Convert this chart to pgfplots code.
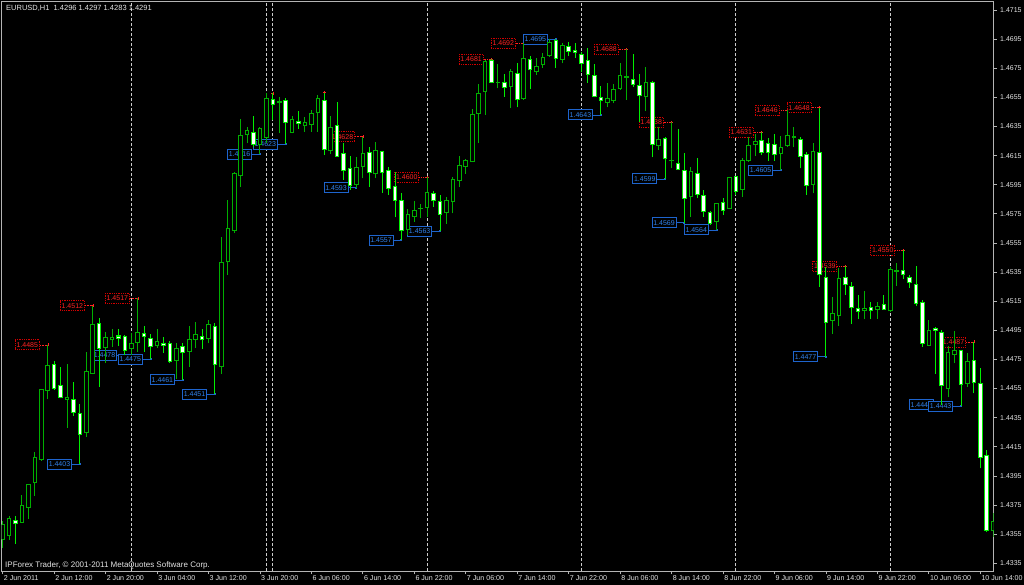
\documentclass[border=0pt]{standalone}
\usepackage{fontspec}
\setmainfont{Liberation Sans}
\usepackage{pgfplots}
\usepackage{pgfplotstable}
\pgfplotsset{compat=1.18}

\definecolor{bullg}{RGB}{0,175,0}
\definecolor{bearg}{RGB}{0,240,0}
\definecolor{framegray}{RGB}{180,180,180}
\definecolor{txt}{RGB}{228,228,228}
\definecolor{sepcol}{RGB}{205,205,205}
\definecolor{hitext}{RGB}{255,35,35}
\definecolor{hiborder}{RGB}{210,0,0}
\definecolor{lotext}{RGB}{50,130,235}
\definecolor{loborder}{RGB}{30,100,205}

% H1 candles, bar 0 = 2 Jun 04:00
\pgfplotstableread{
i O H L C
0 1.43510 1.43641 1.43455 1.43613
1 1.43544 1.43675 1.43510 1.43659
2 1.43647 1.43675 1.43482 1.43622
3 1.43632 1.43819 1.43630 1.43746
4 1.43735 1.43895 1.43654 1.43890
5 1.43904 1.44112 1.43814 1.44078
6 1.44064 1.44548 1.44053 1.44545
7 1.44540 1.44850 1.44476 1.44705
8 1.44717 1.44739 1.44540 1.44552
9 1.44568 1.44696 1.44485 1.44487
10 1.44476 1.44717 1.44281 1.44490
11 1.44478 1.44597 1.44362 1.44384
12 1.44380 1.44444 1.44030 1.44236
13 1.44247 1.44803 1.44219 1.44666
14 1.44655 1.45120 1.44650 1.44987
15 1.44998 1.45033 1.44563 1.44827
16 1.44831 1.44941 1.44728 1.44899
17 1.44884 1.44957 1.44838 1.44899
18 1.44911 1.44957 1.44842 1.44895
19 1.44906 1.44918 1.44780 1.44810
20 1.44827 1.44930 1.44782 1.44861
21 1.44865 1.45170 1.44803 1.44937
22 1.44925 1.44980 1.44803 1.44906
23 1.44895 1.44925 1.44750 1.44838
24 1.44849 1.44957 1.44827 1.44872
25 1.44861 1.44902 1.44796 1.44847
26 1.44861 1.44877 1.44728 1.44735
27 1.44746 1.44861 1.44614 1.44827
28 1.44838 1.44865 1.44610 1.44796
29 1.44803 1.44980 1.44700 1.44888
30 1.44890 1.45009 1.44827 1.44923
31 1.44906 1.44957 1.44822 1.44884
32 1.44895 1.45021 1.44861 1.44987
33 1.44975 1.44998 1.44510 1.44712
34 1.44700 1.45593 1.44650 1.45414
35 1.45421 1.45845 1.45330 1.45646
36 1.45634 1.46037 1.45618 1.46028
37 1.46012 1.46399 1.45936 1.46287
38 1.46296 1.46349 1.46235 1.46321
39 1.46310 1.46422 1.46211 1.46228
40 1.46223 1.46345 1.46160 1.46338
41 1.46276 1.46578 1.46235 1.46539
42 1.46532 1.46578 1.46395 1.46504
43 1.46516 1.46555 1.46303 1.46520
44 1.46527 1.46544 1.46230 1.46379
45 1.46307 1.46422 1.46303 1.46395
46 1.46383 1.46458 1.46331 1.46367
47 1.46355 1.46417 1.46314 1.46379
48 1.46365 1.46463 1.46314 1.46441
49 1.46445 1.46566 1.46314 1.46544
50 1.46527 1.46582 1.46154 1.46195
51 1.46184 1.46422 1.46161 1.46342
52 1.46360 1.46520 1.46143 1.46147
53 1.46161 1.46235 1.45982 1.46046
54 1.46063 1.46147 1.45914 1.45948
55 1.45953 1.46138 1.45930 1.46070
56 1.46074 1.46280 1.45994 1.46161
57 1.46170 1.46211 1.45936 1.46035
58 1.46024 1.46245 1.45994 1.46184
59 1.46177 1.46182 1.45895 1.46035
60 1.46046 1.46074 1.45879 1.45925
61 1.45941 1.46039 1.45726 1.45845
62 1.45840 1.45891 1.45570 1.45634
63 1.45644 1.45781 1.45605 1.45747
64 1.45730 1.45840 1.45696 1.45770
65 1.45788 1.45818 1.45719 1.45790
66 1.45795 1.46000 1.45726 1.45898
67 1.45891 1.45907 1.45799 1.45845
68 1.45838 1.45879 1.45630 1.45747
69 1.45758 1.45868 1.45680 1.45845
70 1.45838 1.46005 1.45754 1.45987
71 1.45978 1.46147 1.45936 1.46085
72 1.46074 1.46125 1.46024 1.46115
73 1.46108 1.46468 1.46105 1.46429
74 1.46441 1.46642 1.46235 1.46578
75 1.46589 1.46807 1.46429 1.46795
76 1.46800 1.46810 1.46647 1.46653
77 1.46653 1.46777 1.46612 1.46655
78 1.46653 1.46708 1.46555 1.46616
79 1.46623 1.46743 1.46479 1.46726
80 1.46715 1.46788 1.46482 1.46532
81 1.46539 1.46920 1.46532 1.46818
82 1.46811 1.46836 1.46605 1.46738
83 1.46726 1.46818 1.46704 1.46761
84 1.46777 1.46853 1.46750 1.46825
85 1.46836 1.46949 1.46825 1.46925
86 1.46939 1.46950 1.46750 1.46818
87 1.46813 1.46925 1.46784 1.46905
88 1.46898 1.46932 1.46836 1.46868
89 1.46875 1.46925 1.46822 1.46860
90 1.46846 1.46864 1.46726 1.46784
91 1.46800 1.46887 1.46651 1.46710
92 1.46699 1.46779 1.46550 1.46555
93 1.46550 1.46628 1.46430 1.46527
94 1.46513 1.46651 1.46482 1.46539
95 1.46527 1.46642 1.46509 1.46605
96 1.46612 1.46788 1.46601 1.46699
97 1.46688 1.46880 1.46532 1.46690
98 1.46674 1.46848 1.46623 1.46635
99 1.46628 1.46710 1.46383 1.46561
100 1.46555 1.46761 1.46458 1.46653
101 1.46651 1.46662 1.46138 1.46228
102 1.46218 1.46349 1.46189 1.46262
103 1.46269 1.46276 1.45990 1.46127
104 1.46115 1.46380 1.46063 1.46118
105 1.46097 1.46331 1.46051 1.46056
106 1.46049 1.46166 1.45690 1.45857
107 1.45868 1.46074 1.45730 1.46039
108 1.46024 1.46136 1.45857 1.45886
109 1.45875 1.45914 1.45730 1.45765
110 1.45758 1.45770 1.45673 1.45685
111 1.45696 1.45827 1.45640 1.45818
112 1.45827 1.45857 1.45742 1.45776
113 1.45788 1.46005 1.45783 1.46001
114 1.46005 1.46012 1.45879 1.45902
115 1.45919 1.46132 1.45868 1.46115
116 1.46113 1.46280 1.46108 1.46218
117 1.46223 1.46298 1.46147 1.46250
118 1.46257 1.46310 1.46154 1.46173
119 1.46235 1.46269 1.46115 1.46170
120 1.46228 1.46296 1.46113 1.46159
121 1.46166 1.46285 1.46050 1.46207
122 1.46218 1.46460 1.46211 1.46287
123 1.46276 1.46344 1.46207 1.46278
124 1.46262 1.46276 1.46063 1.46147
125 1.46159 1.46177 1.45879 1.45948
126 1.45953 1.46239 1.45891 1.46177
127 1.46173 1.46480 1.45250 1.45330
128 1.45316 1.45387 1.44770 1.45005
129 1.45016 1.45177 1.44925 1.45067
130 1.45055 1.45380 1.44980 1.45307
131 1.45314 1.45390 1.45193 1.45266
132 1.45254 1.45284 1.44993 1.45108
133 1.45097 1.45193 1.45026 1.45078
134 1.45085 1.45220 1.45026 1.45097
135 1.45108 1.45143 1.45026 1.45085
136 1.45095 1.45147 1.45028 1.45117
137 1.45129 1.45193 1.45090 1.45095
138 1.45083 1.45387 1.45078 1.45369
139 1.45357 1.45414 1.45254 1.45359
140 1.45364 1.45500 1.45300 1.45330
141 1.45314 1.45330 1.45239 1.45280
142 1.45266 1.45392 1.45117 1.45131
143 1.45140 1.45158 1.44838 1.44861
144 1.44849 1.45021 1.44842 1.44947
145 1.44964 1.44971 1.44650 1.44952
146 1.44937 1.44952 1.44440 1.44570
147 1.44552 1.44842 1.44490 1.44796
148 1.44787 1.44947 1.44724 1.44810
149 1.44810 1.44815 1.44430 1.44579
150 1.44586 1.44796 1.44563 1.44739
151 1.44746 1.44870 1.44517 1.44593
152 1.44586 1.44689 1.44002 1.44078
153 1.44087 1.44128 1.43567 1.43574
154 1.43574 1.43695 1.43533 1.43636
}\candles

% fractal highs / lows with their price labels
\pgfplotstableread{
i p
7 1.4485
14 1.4512
21 1.4517
56 1.4628
66 1.4600
76 1.4681
81 1.4692
97 1.4688
104 1.4638
118 1.4631
122 1.4646
127 1.4648
131 1.4539
140 1.4550
151 1.4487
}\highs

\pgfplotstableread{
i p
12 1.4403
19 1.4478
23 1.4475
28 1.4461
33 1.4451
40 1.4616
44 1.4623
55 1.4593
62 1.4557
68 1.4563
86 1.4695
93 1.4643
103 1.4599
106 1.4569
111 1.4564
121 1.4605
128 1.4477
146 1.4444
149 1.4443
}\lows

\pgfdeclareplotmark{hiconn}{%
  \pgfsetdash{{0.9pt}{0.9pt}}{0pt}%
  \pgfpathmoveto{\pgfqpoint{-8pt}{0pt}}\pgfpathlineto{\pgfqpoint{0pt}{0pt}}\pgfusepathqstroke
  \pgfsetdash{}{0pt}%
  \pgfpathmoveto{\pgfqpoint{-1.5pt}{0pt}}\pgfpathlineto{\pgfqpoint{1.5pt}{0pt}}%
  \pgfpathmoveto{\pgfqpoint{0pt}{-1.5pt}}\pgfpathlineto{\pgfqpoint{0pt}{1.5pt}}\pgfusepathqstroke}
\pgfdeclareplotmark{loconn}{%
  \pgfpathmoveto{\pgfqpoint{-8pt}{0pt}}\pgfpathlineto{\pgfqpoint{0pt}{0pt}}\pgfusepathqstroke
  \pgfpathrectangle{\pgfqpoint{-1pt}{-1pt}}{\pgfqpoint{2pt}{2pt}}\pgfusepathqfill}

\tikzset{
  pricebox/.style={fill=black, font=\fontsize{7}{8}\selectfont, line width=0.8pt,
    inner xsep=1.3pt, inner ysep=2.5pt, text height=5pt, text depth=0pt},
}
\pgfplotsset{
  chartbox/.style={scale only axis, width=991.8pt, height=569.8pt,
    at={(1.7pt,13.5pt)}, anchor=south west,
    xmin=-0.155, xmax=154.05, ymin=1.432936, ymax=1.47207},
  wick/.style={draw=none, mark=none, forget plot, restrict y to domain=1:2,
    error bars/.cd, y dir=plus, y explicit, error mark=none,
    error bar style={draw=#1, line width=1pt}},
  body/.style 2 args={draw=none, mark=none, forget plot, restrict y to domain=1:2,
    error bars/.cd, y dir=plus, y explicit, error mark=none,
    error bar style={draw=#1, line width=#2}},
}

\begin{document}
\begin{tikzpicture}
\fill[black] (0,0) rectangle (1024pt,585pt);

\begin{axis}[chartbox,
  axis line style={draw=framegray, line width=0.8pt},
  tick style={draw=framegray, line width=0.8pt},
  tick align=outside, major tick length=3pt,
  xtick pos=left, ytick pos=right, yticklabel pos=right,
  xtick={0,8,...,152},
  xticklabels={2 Jun 2011,2 Jun 12:00,2 Jun 20:00,3 Jun 04:00,3 Jun 12:00,3 Jun 20:00,
    6 Jun 06:00,6 Jun 14:00,6 Jun 22:00,7 Jun 06:00,7 Jun 14:00,7 Jun 22:00,
    8 Jun 06:00,8 Jun 14:00,8 Jun 22:00,9 Jun 06:00,9 Jun 14:00,9 Jun 22:00,
    10 Jun 06:00,10 Jun 14:00},
  ytick={1.4335,1.4355,1.4375,1.4395,1.4415,1.4435,1.4455,1.4475,1.4495,1.4515,
    1.4535,1.4555,1.4575,1.4595,1.4615,1.4635,1.4655,1.4675,1.4695,1.4715},
  yticklabels={1.4335,1.4355,1.4375,1.4395,1.4415,1.4435,1.4455,1.4475,1.4495,1.4515,
    1.4535,1.4555,1.4575,1.4595,1.4615,1.4635,1.4655,1.4675,1.4695,1.4715},
  x tick label style={anchor=north west, inner sep=0pt, xshift=1pt, yshift=-0.8pt,
    font=\fontsize{7.1}{8.5}\selectfont, text=txt},
  y tick label style={anchor=west, inner sep=0pt, xshift=3.5pt,
    font=\fontsize{7}{8}\selectfont, text=txt},
  extra x ticks={20,41,42,66,90,114,138},
  extra x tick labels={},
  extra x tick style={grid=major, major tick length=0pt,
    major grid style={draw=sepcol, line width=0.9pt, dash pattern=on 3pt off 2pt}},
]
\addplot[only marks, mark=hiconn, draw=hitext,
  nodes near coords, point meta=explicit symbolic,
  every node near coord/.append style={anchor=east, xshift=-8pt, pricebox,
    draw=hiborder, densely dotted, text=hitext}]
  table[x=i, y=p, meta=p] {\highs};
\addplot[only marks, mark=loconn, draw=loborder, fill=loborder,
  nodes near coords, point meta=explicit symbolic,
  every node near coord/.append style={anchor=east, xshift=-8pt, pricebox,
    draw=loborder, text=lotext}]
  table[x=i, y=p, meta=p] {\lows};
\addplot[only marks, mark=+, mark size=1.5pt, draw=hitext]
  coordinates {(42,1.46578) (50,1.46582)};
\end{axis}

\begin{axis}[chartbox, hide axis]
% wicks
\addplot[wick=bullg]
  table[x=i, y expr={\thisrow{C}>\thisrow{O} ? \thisrow{L} : 0},
        y error plus expr={\thisrow{H}-\thisrow{L}}] {\candles};
\addplot[wick=bearg]
  table[x=i, y expr={\thisrow{C}>\thisrow{O} ? 0 : \thisrow{L}},
        y error plus expr={\thisrow{H}-\thisrow{L}}] {\candles};
% bull bodies: green frame, black inside
\addplot[body={bullg}{4.6pt}]
  table[x=i, y expr={\thisrow{C}>\thisrow{O} ? \thisrow{O}-0.0000343 : 0},
        y error plus expr={\thisrow{C}-\thisrow{O}+0.0000687}] {\candles};
\addplot[body={black}{2.6pt}]
  table[x=i, y expr={\thisrow{C}>\thisrow{O} ? \thisrow{O}+0.0000343 : 0},
        y error plus expr={max(\thisrow{C}-\thisrow{O}-0.0000687,0)}] {\candles};
% bear bodies: lime frame, white inside
\addplot[body={bearg}{4.6pt}]
  table[x=i, y expr={\thisrow{C}>\thisrow{O} ? 0 : \thisrow{C}-0.0000343},
        y error plus expr={\thisrow{O}-\thisrow{C}+0.0000687}] {\candles};
\addplot[body={white}{2.6pt}]
  table[x=i, y expr={\thisrow{C}>\thisrow{O} ? 0 : \thisrow{C}+0.0000343},
        y error plus expr={max(\thisrow{O}-\thisrow{C}-0.0000687,0)}] {\candles};
\end{axis}

\node[anchor=west, inner sep=0pt, text=txt, font=\fontsize{7.5}{9}\selectfont]
  at (6pt,577pt) {EURUSD,H1\ \ 1.4296 1.4297 1.4283 1.4291};
\node[anchor=west, inner sep=0pt, text=txt, font=\fontsize{8}{9}\selectfont]
  at (5pt,20pt) {IPForex Trader, © 2001-2011 MetaQuotes Software Corp.};

\pgfresetboundingbox
\useasboundingbox (0,0) rectangle (1024pt,585pt);
\end{tikzpicture}
\end{document}
